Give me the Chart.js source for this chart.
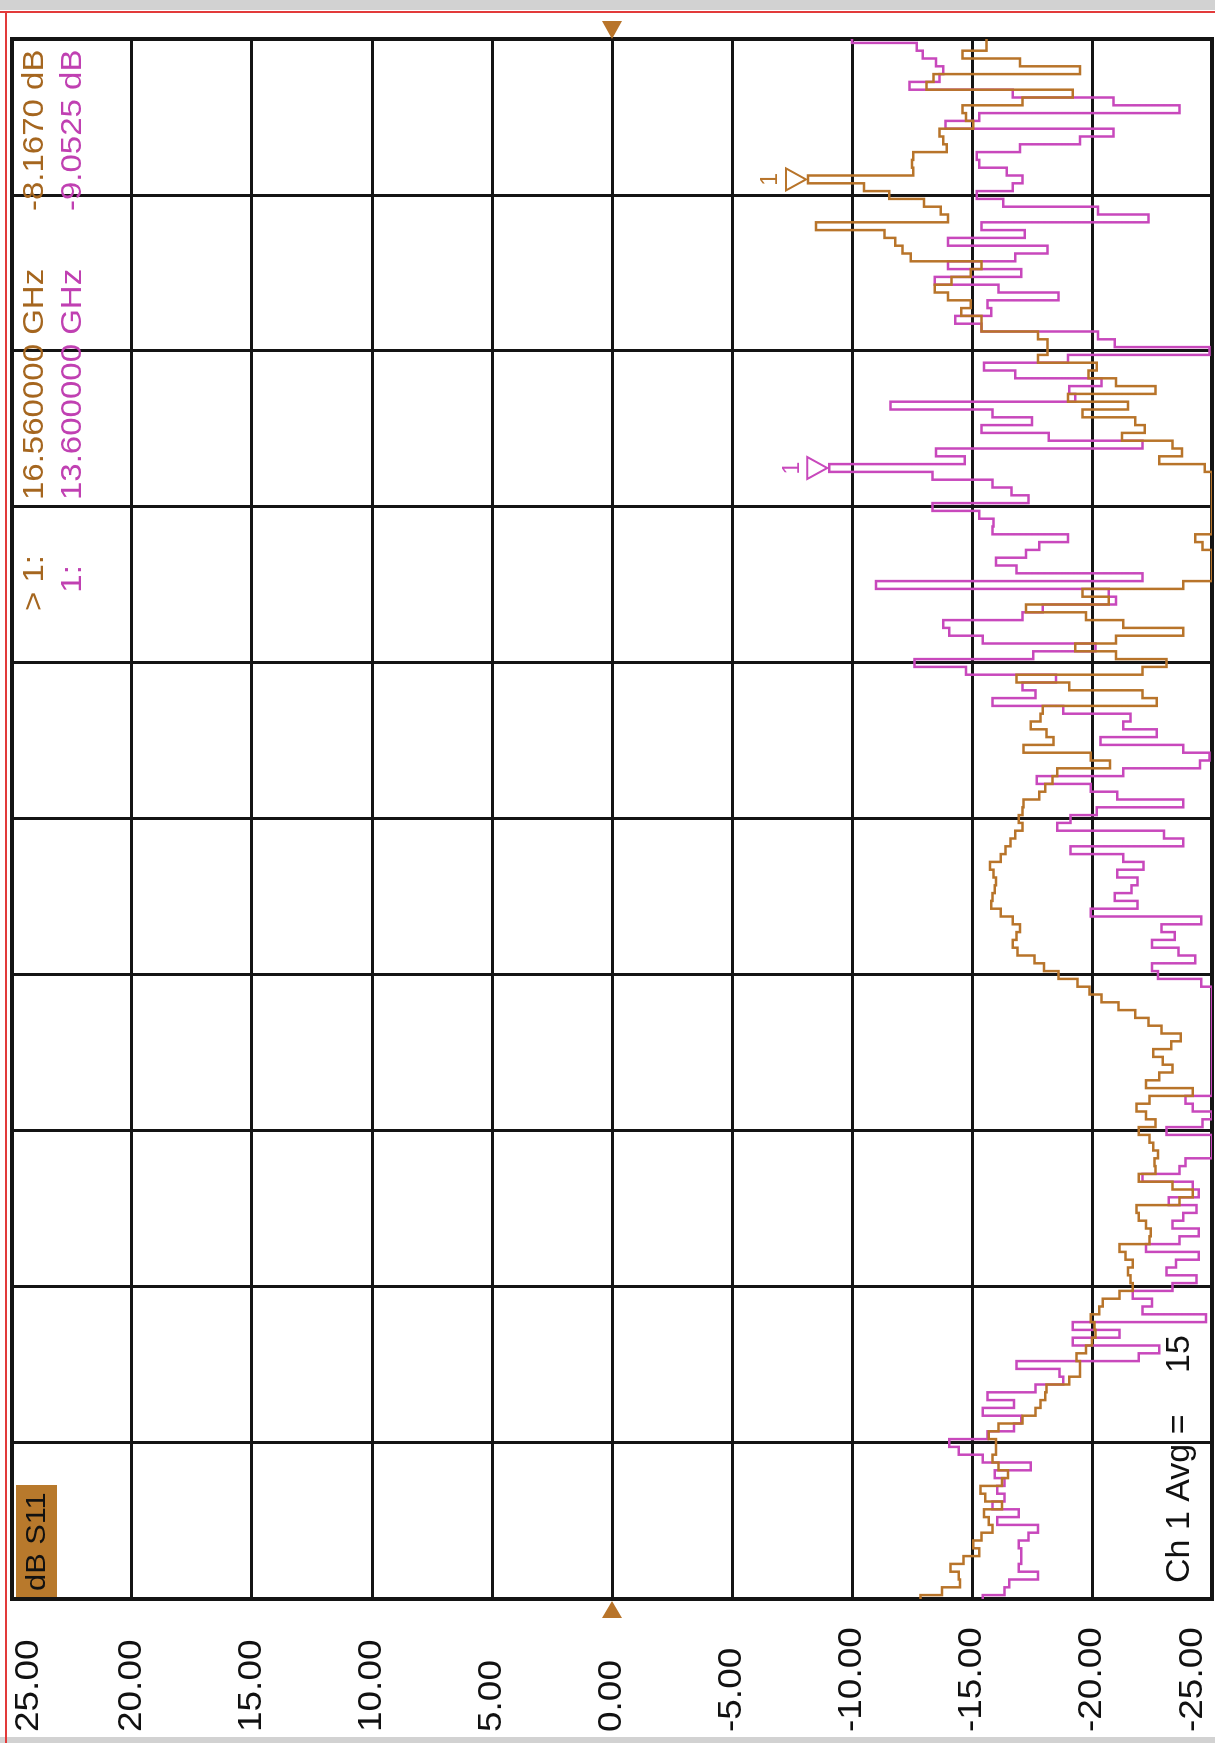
<!DOCTYPE html>
<html>
<head>
<meta charset="utf-8">
<script src="https://cdn.jsdelivr.net/npm/chart.js@4.4.1/dist/chart.umd.min.js"></script>
<style>
  html, body { margin: 0; padding: 0; background: #fff; }
  body { width: 1215px; height: 1743px; overflow: hidden; position: relative; }
  /* the analyser screen was photographed on its side: draw it upright, then turn it */
  #wrap { position: absolute; left: 0; top: 0; width: 1743px; height: 1215px;
          transform-origin: 0 0; transform: translate(0, 1743px) rotate(-90deg); }
</style>
</head>
<body>
<div id="wrap"><canvas id="s11Chart" width="1743" height="1215"></canvas></div>
<script>
// sweep of the analyser, GHz
const startGHz = 2;
const stopGHz = 18;
const freqGridGHz = [2, 3.6, 5.2, 6.8, 8.4, 10, 11.6, 13.2, 14.8, 16.4, 18];

// dB scale
const dbTicks = [25, 20, 15, 10, 5, 0, -5, -10, -15, -20, -25];
const dbTickLabels = ['25.00', '20.00', '15.00', '10.00', '5.00', '0.00', '-5.00', '-10.00', '-15.00', '-20.00', '-25.00'];

// dB S11 (201 points, 2 -> 18 GHz)
const traceBrown = [
  -12.85, -13.75, -14.5, -14.45, -14.1, -14.65, -15.3, -15.05, -15.4, -15.85,
  -15.7, -15.5, -16.25, -15.55, -15.35, -16.25, -16.5, -16.1, -15.85, -16.0,
  -16.0, -15.7, -16.1, -17.1, -17.65, -17.85, -18.05,
  -18.1, -19.05, -19.5, -19.5, -19.35, -19.75, -20.0, -20.15, -20.1, -19.95,
  -20.3, -20.45, -21.15, -21.7, -21.6, -21.5, -21.7, -21.4, -21.15, -22.4, -22.45,
  -22.25, -21.95, -21.85, -23.65, -24.2, -23.35, -21.95, -22.65, -22.6, -22.75,
  -22.55, -22.4, -21.95, -22.65, -22.25, -21.85, -22.4, -24.2, -22.25, -22.8, -23.35, -22.95,
  -22.55, -23.3, -23.7, -22.9, -22.35, -21.8, -21.1, -20.4, -19.9, -19.4,
  -18.6, -18.0, -17.6, -16.9, -16.7, -16.85, -17.0, -16.7, -16.2, -15.8, -15.85, -15.95,
  -16.0, -15.9, -15.75, -16.2, -16.4, -16.6, -16.8, -17.1, -16.95, -17.1,
  -17.15, -17.8, -18.05, -18.35, -18.55, -20.75, -19.95, -17.15, -18.4, -18.1, -17.45, -17.85,
  -17.95, -22.7, -22.1, -19.05, -16.85, -22.1, -23.1, -21.0, -19.3, -21.0,
  -23.8, -21.3, -19.75, -17.25, -20.7, -19.6, -23.8, -25, -25, -25, -25, -24.6,
  -24.3, -25, -25, -25, -25, -25, -25, -25, -25, -24.7,
  -22.8, -23.75, -23.35, -21.25, -22.2, -21.8, -19.6, -21.5, -19.0, -22.65, -21.0, -19.85,
  -20.2, -17.75, -18.15, -18.15, -17.75, -15.4, -15.4, -14.55, -14.95, -14.0,
  -13.45, -14.15, -14.95, -15.4, -12.45, -12.1, -11.8, -11.35, -8.5, -14.0, -13.7,
  -13.0, -11.55, -10.5, -8.17, -12.55, -12.5, -12.55, -13.95, -13.8, -13.65,
  -15.05, -14.75, -14.6, -17.1, -19.2, -13.1, -13.4, -19.5, -17.0, -14.6, -15.6, -15.6
];

const traceMagenta = [
  -15.45, -16.35, -16.55, -17.75, -16.95, -17.05, -17.05, -16.95, -17.35, -17.75,
  -16.05, -16.95, -15.85, -16.35, -16.05, -16.35, -15.95, -17.45, -15.45, -14.45,
  -14.05, -15.65, -16.75, -17.05, -15.45, -16.75, -15.65,
  -17.65, -18.8, -18.65, -16.85, -21.95, -22.8, -19.2, -21.15, -19.2, -24.75,
  -22.1, -22.5, -21.7, -23.35, -24.35, -23.1, -23.5, -24.45, -22.25, -23.65, -24.45,
  -23.35, -23.8, -24.35, -23.2, -24.45, -24.2, -22.1, -23.65, -23.9, -25,
  -25, -25, -23.1, -24.6, -25, -24.2, -23.9, -25, -25, -25, -25, -25,
  -25, -25, -25, -25, -25, -25, -25, -25, -25, -24.55,
  -22.75, -22.5, -24.3, -23.6, -22.5, -23.45, -22.9, -24.55, -19.95, -21.9, -20.95, -21.65,
  -21.9, -21.05, -22.15, -21.3, -19.1, -23.8, -23.0, -18.55, -19.1, -20.2,
  -23.8, -21.05, -19.95, -17.7, -21.3, -24.5, -24.9, -23.8, -20.35, -22.7, -21.3, -21.6,
  -18.8, -15.85, -17.65, -17.1, -18.5, -14.75, -12.6, -17.55, -20.15, -15.45,
  -14.05, -13.8, -17.1, -17.95, -21.0, -20.7, -11.0, -22.1, -16.85, -16.0, -17.25, -17.8,
  -19.0, -15.85, -15.9, -15.3, -13.35, -17.35, -16.65, -15.85, -13.35, -9.05,
  -14.7, -13.5, -22.1, -18.2, -15.4, -17.5, -15.85, -11.6, -19.3, -19.05, -20.4, -16.8,
  -15.5, -19.0, -24.9, -20.95, -20.25, -15.4, -14.3, -15.8, -15.65, -18.6,
  -16.1, -13.45, -17.05, -14.0, -16.8, -18.15, -14.0, -17.2, -15.4, -22.35, -20.25,
  -16.3, -15.2, -16.7, -17.1, -16.45, -15.3, -15.2, -17.0, -19.5, -20.9,
  -13.9, -15.3, -23.65, -20.9, -16.7, -12.4, -13.65, -13.8, -13.5, -12.95, -12.7, -10.0
];

// marker 1 on each trace
const markerFreqGHz = [16.56, 13.6];
const markerDb = [-8.167, -9.0525];
const markerPrefix = ['> 1:', '  1:'];
const markerFreqText = ['16.560000 GHz', '13.600000 GHz'];
const markerDbText = ['-8.1670 dB', '-9.0525 dB'];

const brown = '#b8742a';
const magenta = '#c848bc';
const traceColors = [brown, magenta];
const sansFont = '"Liberation Sans", Arial, sans-serif';

const freqs = traceBrown.map((_, i) => startGHz + i * (stopGHz - startGHz) / (traceBrown.length - 1));

// the screen font is a bit wider than Arial
function wideText(c, text, x, y, sx) {
  c.save();
  c.translate(x, y);
  c.scale(sx, 1);
  c.fillText(text, 0, 0);
  c.restore();
}

const analyzerDecor = {
  id: 'analyzerDecor',
  beforeDraw(chart) {
    const c = chart.ctx;
    c.save();
    c.fillStyle = '#fff';
    c.fillRect(0, 0, chart.width, chart.height);
    // screen bezel bits
    c.fillStyle = '#d2d2d2';
    c.fillRect(chart.width - 10, 0, 10, chart.height);
    c.fillRect(0, 0, 6, chart.height);
    c.fillStyle = '#e23a3a';
    c.fillRect(chart.width - 13, 0, 2, chart.height);
    c.fillRect(0, 5, chart.width - 11, 2);
    c.restore();
  },
  beforeDatasetsDraw(chart) {
    const a = chart.chartArea;
    const c = chart.ctx;
    c.save();
    c.strokeStyle = '#141414';
    c.lineWidth = 4;
    c.strokeRect(a.left, a.top, a.right - a.left, a.bottom - a.top);
    c.restore();
  },
  afterDraw(chart) {
    const c = chart.ctx;
    const a = chart.chartArea;
    const xs = chart.scales.x;
    const ys = chart.scales.y;
    c.save();

    // dB tick labels
    c.fillStyle = '#111';
    c.font = '33px ' + sansFont;
    c.textAlign = 'left';
    c.textBaseline = 'middle';
    dbTicks.forEach((v, i) => {
      let py = ys.getPixelForValue(v);
      py = Math.min(Math.max(py, a.top + 17), a.bottom - 19);
      wideText(c, dbTickLabels[i], 11, py, 1.12);
    });

    // reference position markers at 0 dB
    const y0 = ys.getPixelForValue(0);
    c.fillStyle = brown;
    c.beginPath();
    c.moveTo(a.right, y0); c.lineTo(a.right + 18, y0 - 10); c.lineTo(a.right + 18, y0 + 10);
    c.closePath(); c.fill();
    c.beginPath();
    c.moveTo(a.left - 2, y0); c.lineTo(a.left - 19, y0 - 10); c.lineTo(a.left - 19, y0 + 10);
    c.closePath(); c.fill();

    // marker triangles
    markerFreqGHz.forEach((f, i) => {
      const px = xs.getPixelForValue(f);
      const py = ys.getPixelForValue(markerDb[i]);
      c.strokeStyle = traceColors[i];
      c.fillStyle = traceColors[i];
      c.lineWidth = 2;
      c.beginPath();
      c.moveTo(px, py - 2); c.lineTo(px - 11, py - 22); c.lineTo(px + 11, py - 22);
      c.closePath(); c.stroke();
      c.font = '23px ' + sansFont;
      c.textAlign = 'center';
      c.fillText('1', px, py - 37);
    });

    // marker readouts
    c.font = '30px ' + sansFont;
    c.textAlign = 'left';
    [35, 73].forEach((py, i) => {
      c.fillStyle = i === 0 ? '#a5661f' : '#c040b2';
      wideText(c, markerPrefix[i], 1132, py, 1.1);
      wideText(c, markerFreqText[i], 1243, py, 1.1);
      wideText(c, markerDbText[i], 1532, py, 1.1);
    });

    // trace label
    c.fillStyle = '#b8792c';
    c.fillRect(a.left + 2, 16, 112, 41);
    c.fillStyle = '#111';
    c.font = '28px ' + sansFont;
    wideText(c, 'dB S11', a.left + 8, 37, 1.1);

    // averaging
    c.font = '34px ' + sansFont;
    c.fillText('Ch 1 Avg =', 160, 1180);
    c.fillText('15', 370, 1180);
    c.restore();
  }
};

const gridStyle = { color: '#141414', lineWidth: 3, drawTicks: false };
const borderStyle = { color: '#141414', width: 4 };

const ctx = document.getElementById('s11Chart').getContext('2d');
new Chart(ctx, {
  type: 'line',
  data: {
    datasets: [
      {
        label: 'trace 1',
        data: traceBrown.map((v, i) => ({ x: freqs[i], y: v })),
        borderColor: brown,
        borderWidth: 2.5,
        pointRadius: 0,
        stepped: 'middle'
      },
      {
        label: 'trace 2',
        data: traceMagenta.map((v, i) => ({ x: freqs[i], y: v })),
        borderColor: magenta,
        borderWidth: 2.5,
        pointRadius: 0,
        stepped: 'middle'
      }
    ]
  },
  options: {
    responsive: false,
    animation: false,
    devicePixelRatio: 1,
    layout: { padding: { left: 144, right: 39, top: 12, bottom: 3 } },
    plugins: { legend: { display: false }, tooltip: { enabled: false } },
    scales: {
      x: {
        type: 'linear',
        min: startGHz,
        max: stopGHz,
        afterBuildTicks: s => { s.ticks = freqGridGHz.map(v => ({ value: v })); },
        ticks: { display: false },
        grid: gridStyle,
        border: borderStyle
      },
      y: {
        min: -25,
        max: 25,
        afterBuildTicks: s => { s.ticks = dbTicks.map(v => ({ value: v })); },
        ticks: { display: false },
        grid: gridStyle,
        border: borderStyle
      }
    }
  },
  plugins: [analyzerDecor]
});
</script>
</body>
</html>
